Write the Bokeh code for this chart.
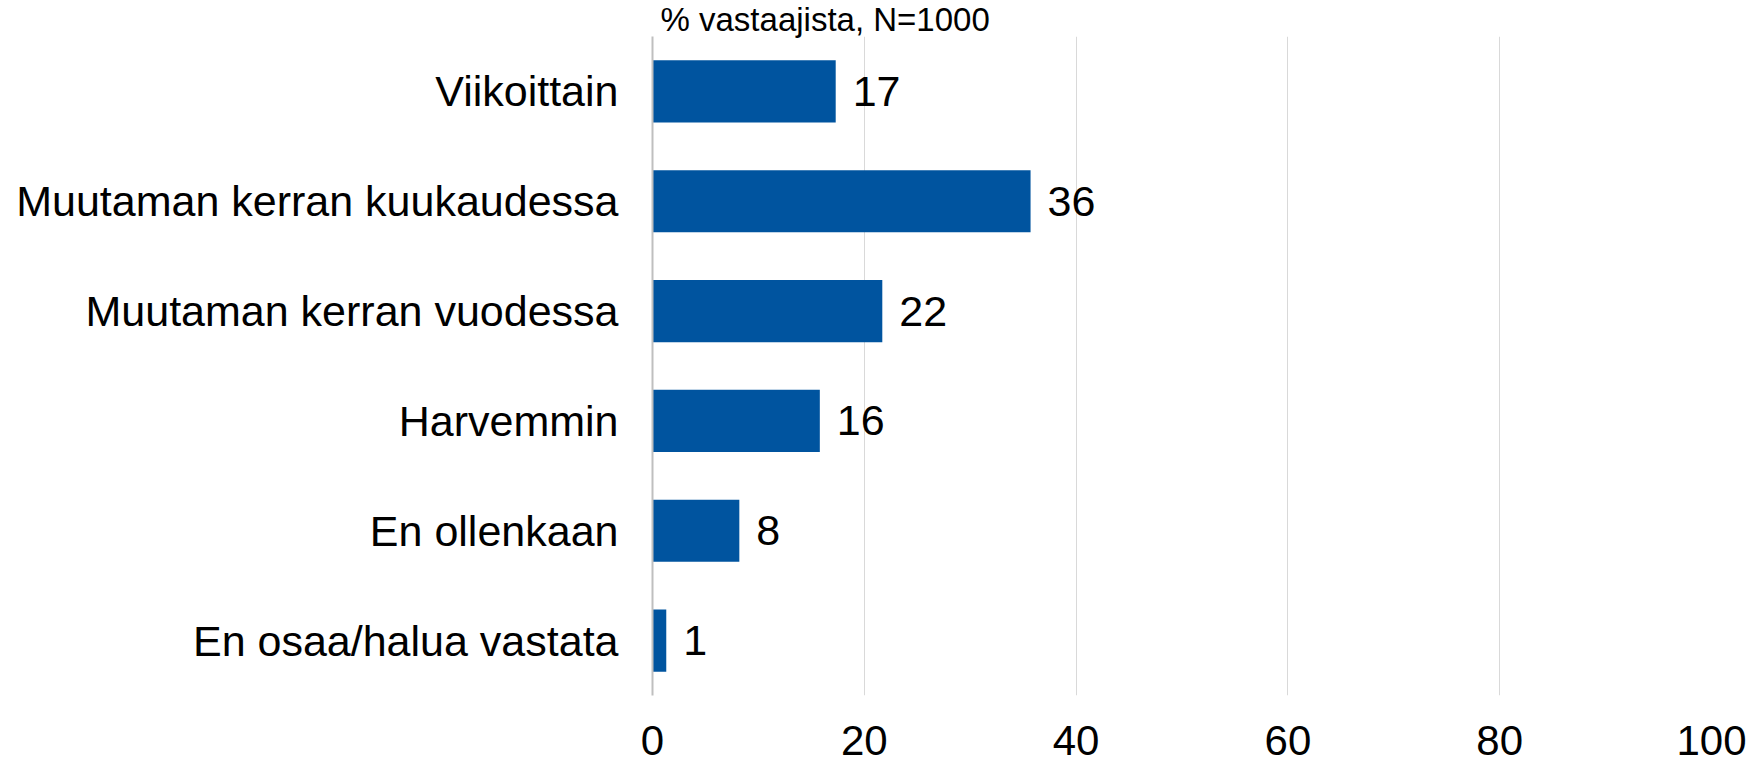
from bokeh.plotting import figure
from bokeh.models import ColumnDataSource, FactorRange, Range1d, FixedTicker, Title
from bokeh.embed import file_html
from bokeh.resources import INLINE
from bokeh.core.properties import value

categories = ["Viikoittain", "Muutaman kerran kuukaudessa", "Muutaman kerran vuodessa",
              "Harvemmin", "En ollenkaan", "En osaa/halua vastata"]
percent = [17.3, 35.7, 21.7, 15.8, 8.2, 1.3]
tick_values = [0, 20, 40, 60, 80, 100]
subtitle = "% vastaajista, N=1000"

FONT = "Liberation Sans"
BAR = "#00549F"

src = ColumnDataSource(dict(cat=categories, val=percent,
                            lab=[str(int(round(v))) for v in percent]))

p = figure(width=1752, height=766, output_backend="svg", toolbar_location=None,
           y_range=FactorRange(*list(reversed(categories)), range_padding=0),
           x_range=Range1d(0, 100),
           min_border_left=652, min_border_right=41, min_border_top=0, min_border_bottom=71)

t = Title(text=subtitle, text_font=FONT, text_font_size="33px", text_font_style="normal",
          text_color="#000000", align="left", offset=8, standoff=-3)
p.add_layout(t, "above")

p.hbar(y="cat", right="val", left=0, height=0.566, source=src, color=BAR, line_color=None)
p.text(x="val", y="cat", text="lab", source=src, x_offset=17, text_baseline="middle",
       text_align="left", text_font=value(FONT), text_font_size="43px", text_color="#000000")

p.outline_line_color = None
p.ygrid.grid_line_color = None
p.xgrid.grid_line_color = "#d9d9d9"
p.xgrid.grid_line_width = 1
p.xaxis.ticker = FixedTicker(ticks=tick_values)
p.xaxis.axis_line_color = None
p.xaxis.major_tick_line_color = None
p.xaxis.minor_tick_line_color = None
p.xaxis.major_label_text_font = FONT
p.xaxis.major_label_text_font_size = "42px"
p.xaxis.major_label_text_color = "#000000"
p.xaxis.major_label_standoff = 24

p.yaxis.axis_line_color = "#bfbfbf"
p.yaxis.axis_line_width = 2
p.yaxis.major_tick_line_color = None
p.yaxis.minor_tick_line_color = None
p.yaxis.major_label_text_font = FONT
p.yaxis.major_label_text_font_size = "43px"
p.yaxis.major_label_text_color = "#000000"
p.yaxis.major_label_standoff = 28

open("out.html", "w").write(file_html(p, INLINE))
